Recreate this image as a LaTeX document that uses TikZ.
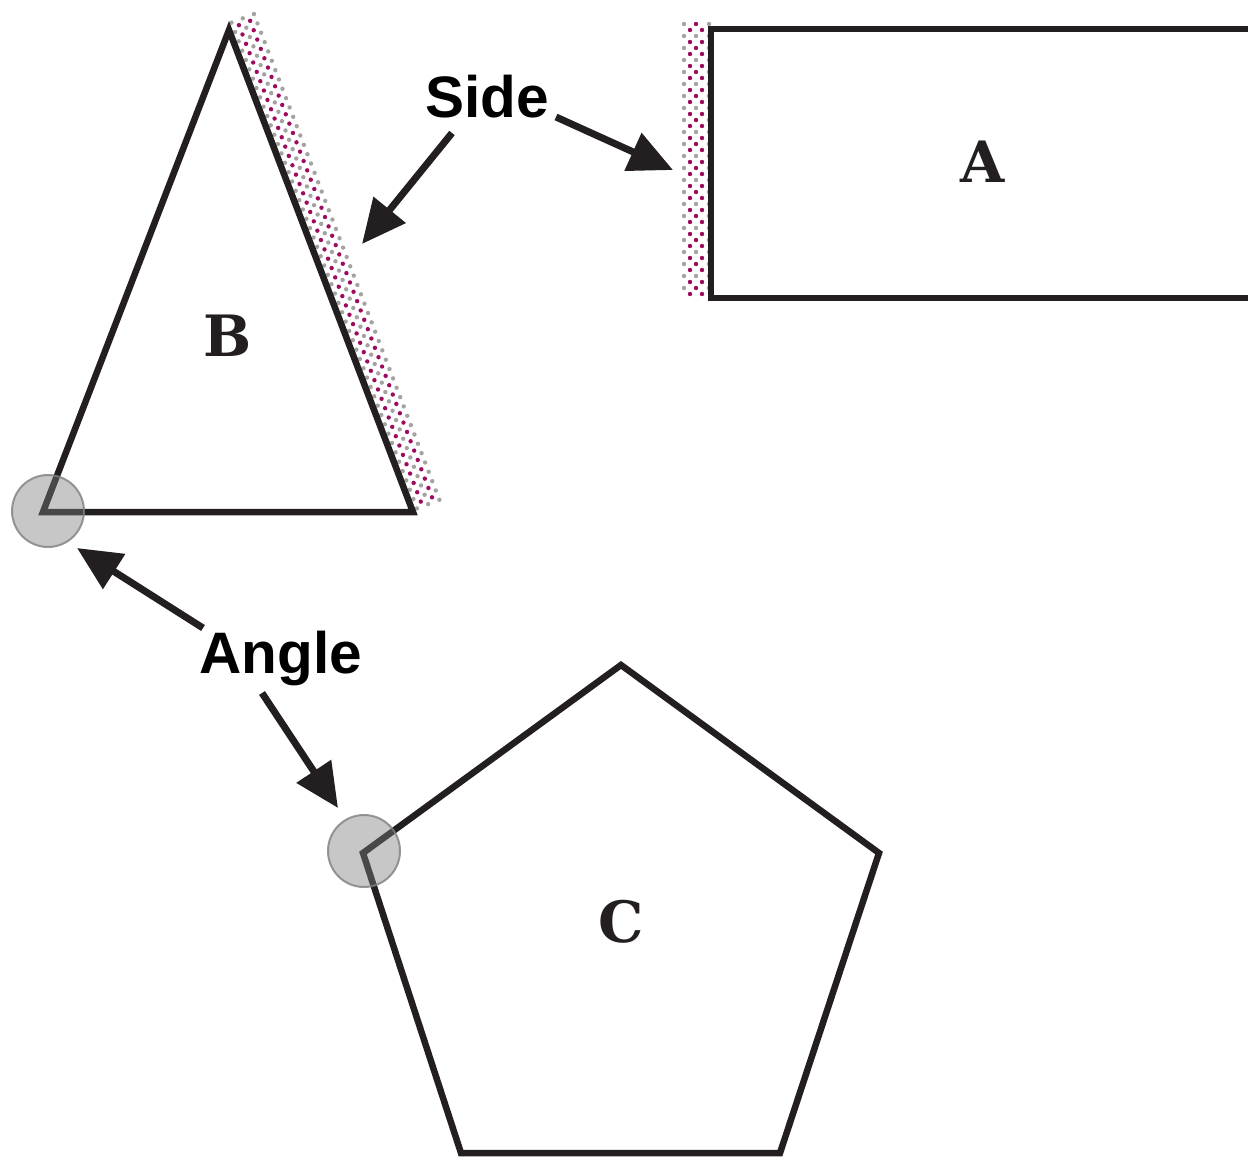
\documentclass[tikz,border=0pt]{standalone}
\usepackage{fontspec}
\setmainfont{Liberation Sans}
\newfontfamily\labfont{DejaVu Serif}
\usetikzlibrary{arrows.meta}
\definecolor{ink}{HTML}{231F20}
\definecolor{dotm}{HTML}{9E0B5E}
\definecolor{dotg}{HTML}{A3A3A3}
\definecolor{halofill}{gray}{0.49}
\begin{document}
\begin{tikzpicture}[x=1pt,y=-1pt,
  figline/.style={draw=ink,line width=6.5pt,line join=miter},
  lab/.style={font=\labfont\bfseries\fontsize{57}{60}\selectfont,text=ink,inner sep=0pt},
  word/.style={font=\bfseries\fontsize{58.5}{62}\selectfont,text=black,inner sep=0pt},
  pointer/.style={draw=ink,line width=7pt,-{Triangle[length=44pt,width=40pt]}},
  halo/.style={fill=halofill,fill opacity=0.43,draw=gray,draw opacity=0.8,line width=2pt},
  dot/.style={radius=2.2pt}]
\useasboundingbox (0,0) rectangle (1248,1157);
\clip (0,0) rectangle (1248,1157);

% dotted band left of rectangle A
\foreach \j in {0,...,45}{
  \pgfmathsetmacro\yy{24+6*\j}
  \ifodd\j
    \fill[dotm] (690,\yy) circle[dot] (702,\yy) circle[dot];
  \else
    \fill[dotg] (684,\yy) circle[dot] (709,\yy) circle[dot];
    \pgfmathtruncatemacro\q{mod(\j,4)}
    \ifnum\q=0 \fill[dotm] (696,\yy) circle[dot]; \else \fill[dotg] (696,\yy) circle[dot]; \fi
  \fi
}

% dotted band along right side of triangle B
\foreach \k in {0,...,104}{
  \pgfmathsetmacro\s{-6+5*\k}
  \ifodd\k
    \foreach \u/\c in {11/dotm,23/dotm}{
      \pgfmathsetmacro\px{229+0.3566*\s+0.9342*\u}
      \pgfmathsetmacro\py{30+0.9342*\s-0.3566*\u}
      \fill[\c] (\px,\py) circle[dot];
    }
  \else
    \foreach \u/\c in {5/dotg,17/dotg,29/dotg}{
      \pgfmathsetmacro\px{229+0.3566*\s+0.9342*\u}
      \pgfmathsetmacro\py{30+0.9342*\s-0.3566*\u}
      \fill[\c] (\px,\py) circle[dot];
    }
  \fi
}

% shapes
\coordinate (rA1) at (711,29);
\coordinate (rA2) at (1262,298);
\draw[figline] (rA1) rectangle (rA2);
\node[lab] (lblA) at (983,162) {A};

\coordinate (tB1) at (229,30);
\coordinate (tB2) at (413,512);
\coordinate (tB3) at (43,512);
\draw[figline] (tB1) -- (tB2) -- (tB3) -- cycle;
\node[lab] (lblB) at (228,336) {B};

\coordinate (pC1) at (621,665);
\coordinate (pC2) at (879,853);
\coordinate (pC3) at (780,1153);
\coordinate (pC4) at (461,1153);
\coordinate (pC5) at (363,853);
\draw[figline] (pC1) -- (pC2) -- (pC3) -- (pC4) -- (pC5) -- cycle;
\node[lab] (lblC) at (621,922) {C};

% angle highlights
\node[halo,circle,minimum size=72pt,inner sep=0pt] (angB) at (48,511) {};
\node[halo,circle,minimum size=72pt,inner sep=0pt] (angC) at (364,851) {};

% words
\node[word] (side) at (487,97) {Side};
\node[word] (angle) at (281,658) {Angle};

% pointers
\coordinate (s1) at (452,133);
\coordinate (s1e) at (362,244);
\coordinate (s2) at (556,117);
\coordinate (s2e) at (673,170);
\coordinate (a1) at (203,628);
\coordinate (a1e) at (77,548);
\coordinate (a2) at (262,693);
\coordinate (a2e) at (338,808);
\draw[pointer] (s1) -- (s1e);
\draw[pointer] (s2) -- (s2e);
\draw[pointer] (a1) -- (a1e);
\draw[pointer] (a2) -- (a2e);
\end{tikzpicture}
\end{document}
